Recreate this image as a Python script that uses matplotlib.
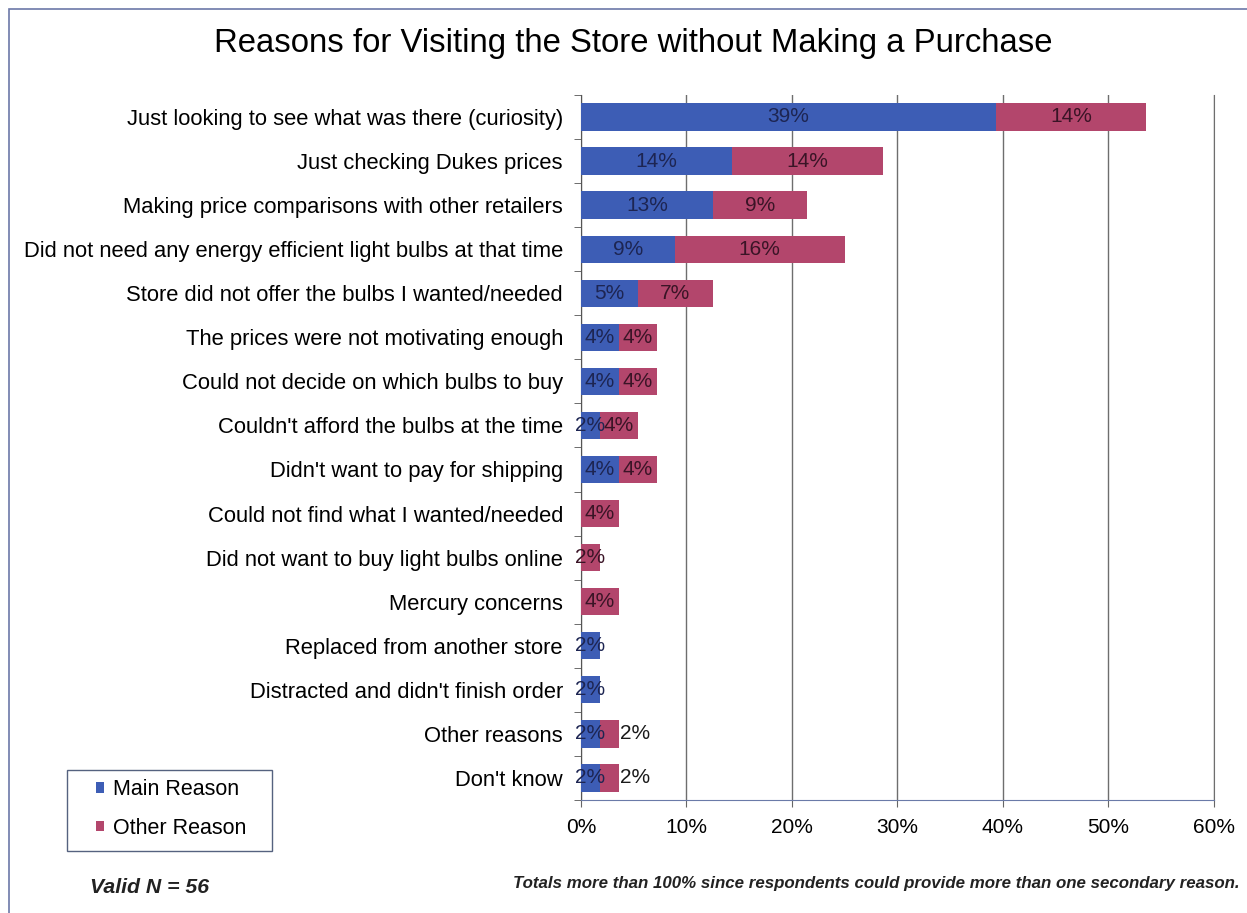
import numpy as np
import matplotlib.pyplot as plt
from matplotlib.patches import Rectangle

plt.rcParams['font.family'] = ['Liberation Sans', 'DejaVu Sans']

# Reasons given, top to bottom
reasons = [
    "Just looking to see what was there (curiosity)",
    "Just checking Dukes prices",
    "Making price comparisons with other retailers",
    "Did not need any energy efficient light bulbs at that time",
    "Store did not offer the bulbs I wanted/needed",
    "The prices were not motivating enough",
    "Could not decide on which bulbs to buy",
    "Couldn't afford the bulbs at the time",
    "Didn't want to pay for shipping",
    "Could not find what I wanted/needed",
    "Did not want to buy light bulbs online",
    "Mercury concerns",
    "Replaced from another store",
    "Distracted and didn't finish order",
    "Other reasons",
    "Don't know",
]
main_reason = [39.3, 14.3, 12.5, 8.9, 5.4, 3.6, 3.6, 1.8, 3.6, 0, 0, 0, 1.8, 1.8, 1.8, 1.8]
other_reason = [14.3, 14.3, 8.9, 16.1, 7.1, 3.6, 3.6, 3.6, 3.6, 3.6, 1.8, 3.6, 0, 0, 1.8, 1.8]
xticks = [0, 10, 20, 30, 40, 50, 60]

blue = '#3d5db5'
red = '#b3466c'


def pct(v):
    # round half up, like the spreadsheet does
    return f"{int(v + 0.5)}%"


fig = plt.figure(figsize=(12.47, 9.13), dpi=100)
ax = fig.add_axes([0.4659, 0.1238, 0.5076, 0.7722])

y = np.arange(len(reasons))
main = np.array(main_reason)
other = np.array(other_reason)
ax.barh(y, main, height=0.62, color=blue, label='Main Reason', zorder=3)
ax.barh(y, other, left=main, height=0.62, color=red, label='Other Reason', zorder=3)

# value labels on each segment
for i in range(len(reasons)):
    if main[i] > 0:
        ax.text(main[i] / 2, i, pct(main[i]), ha='center', va='center',
                fontsize=15, color='#1d2552', zorder=4)
    if other[i] > 0:
        if main[i] > 0 and main[i] < 2.5 and other[i] < 2.5:
            # both segments tiny: push the second label past the bar end
            ax.text(main[i] + other[i] + 0.1, i, pct(other[i]), ha='left', va='center',
                    fontsize=15, color='#1a1a1a', zorder=4)
        else:
            ax.text(main[i] + other[i] / 2, i, pct(other[i]), ha='center', va='center',
                    fontsize=15, color='#3a1426', zorder=4)

ax.set_ylim(len(reasons) - 0.5, -0.5)
ax.set_xlim(0, 60)
ax.set_yticks(y)
ax.set_yticklabels(reasons, fontsize=15.8)
ax.set_yticks(np.arange(len(reasons) + 1) - 0.5, minor=True)
ax.tick_params(axis='y', which='major', length=0, pad=13)
ax.tick_params(axis='y', which='minor', length=5, color='#555555')
ax.set_xticks(xticks)
ax.set_xticklabels([f"{t}%" for t in xticks], fontsize=15)
ax.tick_params(axis='x', length=5, color='#666666', pad=8)
ax.grid(axis='x', color='#6e6e6e', linewidth=1, zorder=0)

ax.spines['top'].set_visible(False)
ax.spines['right'].set_color('#6e6e6e')
ax.spines['left'].set_color('#555555')
ax.spines['bottom'].set_color('#6a7aa8')

fig.text(0.508, 0.952, "Reasons for Visiting the Store without Making a Purchase",
         ha='center', va='center', fontsize=23.7)

# legend box drawn separately, entries placed inside it
fig.patches.append(Rectangle((67 / 1247, 1 - 851 / 913), 205 / 1247, 81 / 913,
                             transform=fig.transFigure, fill=False,
                             edgecolor='#55627f', linewidth=1))
fig.legend(loc='center left', bbox_to_anchor=(96 / 1247, 1 - 809 / 913),
           fontsize=15.5, frameon=False, borderpad=0, borderaxespad=0,
           handlelength=0.37, handleheight=0.37, handletextpad=0.42,
           labelspacing=0.8)

fig.text(90 / 1247, 1 - 887 / 913, "Valid N = 56", ha='left', va='center',
         fontsize=15.3, style='italic', fontweight='bold', color='#222222')
fig.text(1240 / 1247, 1 - 883 / 913,
         "Totals more than 100% since respondents could provide more than one secondary reason.",
         ha='right', va='center', fontsize=12.2, style='italic', fontweight='bold', color='#222222')

# outer frame
fig.patches.append(Rectangle((9 / 1247, -0.01), 1.0, 1 - 9 / 913 + 0.01,
                             transform=fig.transFigure, fill=False,
                             edgecolor='#6c78a8', linewidth=1.2))

fig.savefig('out.png', dpi=100)
